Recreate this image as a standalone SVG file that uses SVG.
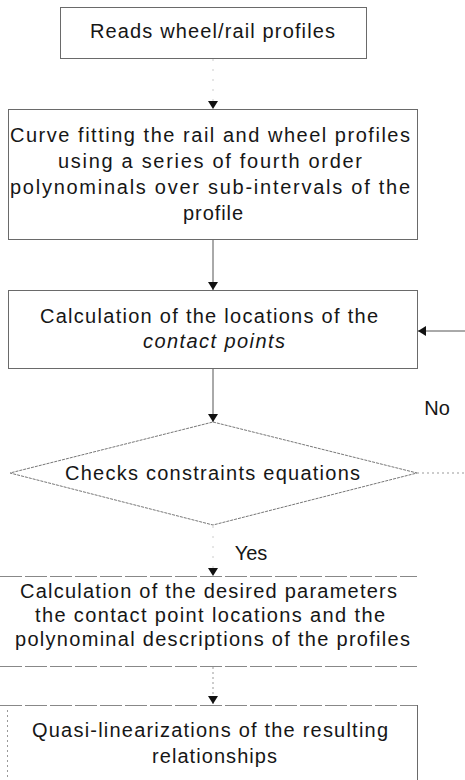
<svg xmlns="http://www.w3.org/2000/svg" width="465" height="780" viewBox="0 0 465 780">
<defs>
<marker id="ah" viewBox="0 0 8 10" refX="8" refY="5" markerWidth="8" markerHeight="10" markerUnits="userSpaceOnUse" orient="auto">
<path d="M0,0 L8,5 L0,10 Z" fill="#111"/>
</marker>
</defs>
<style>
text{font-family:"Liberation Sans",Arial,sans-serif;font-size:20px;fill:#161616;text-anchor:middle}
.box{fill:none;stroke:#6a6a6a;stroke-width:1}
.dash{fill:none;stroke:#888;stroke-width:1;stroke-dasharray:22 3}
.dot{fill:none;stroke:#999;stroke-width:1;stroke-dasharray:2 3}
.con{fill:none;stroke:#555;stroke-width:1}
.faint{fill:none;stroke:#ccc;stroke-width:1;stroke-dasharray:2 8}
</style>
<g id="connectors">
<line class="faint" x1="213" y1="59" x2="213" y2="109" marker-end="url(#ah)"/>
<line class="con" x1="213" y1="239" x2="213" y2="290" marker-end="url(#ah)"/>
<line class="con" x1="465" y1="331" x2="418" y2="331" marker-end="url(#ah)"/>
<line class="con" x1="213" y1="368" x2="213" y2="422" marker-end="url(#ah)"/>
<line class="dot" x1="417" y1="473" x2="465" y2="473"/>
<line class="faint" x1="213" y1="526" x2="213" y2="576" marker-end="url(#ah)"/>
<line class="dot" x1="213" y1="667" x2="213" y2="704" marker-end="url(#ah)"/>
<text x="437" y="415">No</text>
<text x="251" y="560">Yes</text>
</g>
<g id="n1">
<rect class="box" x="60.5" y="7.5" width="306" height="51"/>
<text x="212.5" y="38" textLength="245" lengthAdjust="spacing">Reads wheel/rail profiles</text>
</g>
<g id="n2">
<rect class="box" x="8.5" y="109.5" width="409" height="130"/>
<text x="210" y="142" textLength="400" lengthAdjust="spacing">Curve fitting the rail and wheel profiles</text>
<text x="210" y="168" textLength="304" lengthAdjust="spacing">using a series of fourth order</text>
<text x="210" y="194" textLength="400" lengthAdjust="spacing">polynominals over sub-intervals of the</text>
<text x="213" y="220" textLength="60" lengthAdjust="spacing">profile</text>
</g>
<g id="n3">
<rect class="box" x="8.5" y="290.5" width="409" height="78"/>
<text x="209" y="323" textLength="338" lengthAdjust="spacing">Calculation of the locations of the</text>
<text x="214" y="348" textLength="142" lengthAdjust="spacing" font-style="italic">contact points</text>
</g>
<g id="n4">
<polygon class="dot" points="213,422 417,473 213,525 10,473" style="stroke:#777;stroke-dasharray:3 1"/>
<text x="212.5" y="480" textLength="295" lengthAdjust="spacing">Checks constraints equations</text>
</g>
<g id="n5">
<line class="dash" x1="0" y1="576.5" x2="417" y2="576.5"/>
<line class="dash" x1="0" y1="666.5" x2="417" y2="666.5"/>
<text x="208.5" y="598" textLength="377" lengthAdjust="spacing">Calculation of the desired parameters</text>
<text x="210" y="622" textLength="350" lengthAdjust="spacing">the contact point locations and the</text>
<text x="212.5" y="646" textLength="395" lengthAdjust="spacing">polynominal descriptions of the profiles</text>
</g>
<g id="n6">
<line class="dash" x1="0" y1="705.5" x2="417" y2="705.5"/>
<line class="box" x1="417.5" y1="705" x2="417.5" y2="780"/>
<line class="dot" x1="7.5" y1="710" x2="7.5" y2="780"/>
<text x="210" y="737" textLength="356" lengthAdjust="spacing">Quasi-linearizations of the resulting</text>
<text x="214.5" y="763" textLength="125" lengthAdjust="spacing">relationships</text>
</g>
</svg>
